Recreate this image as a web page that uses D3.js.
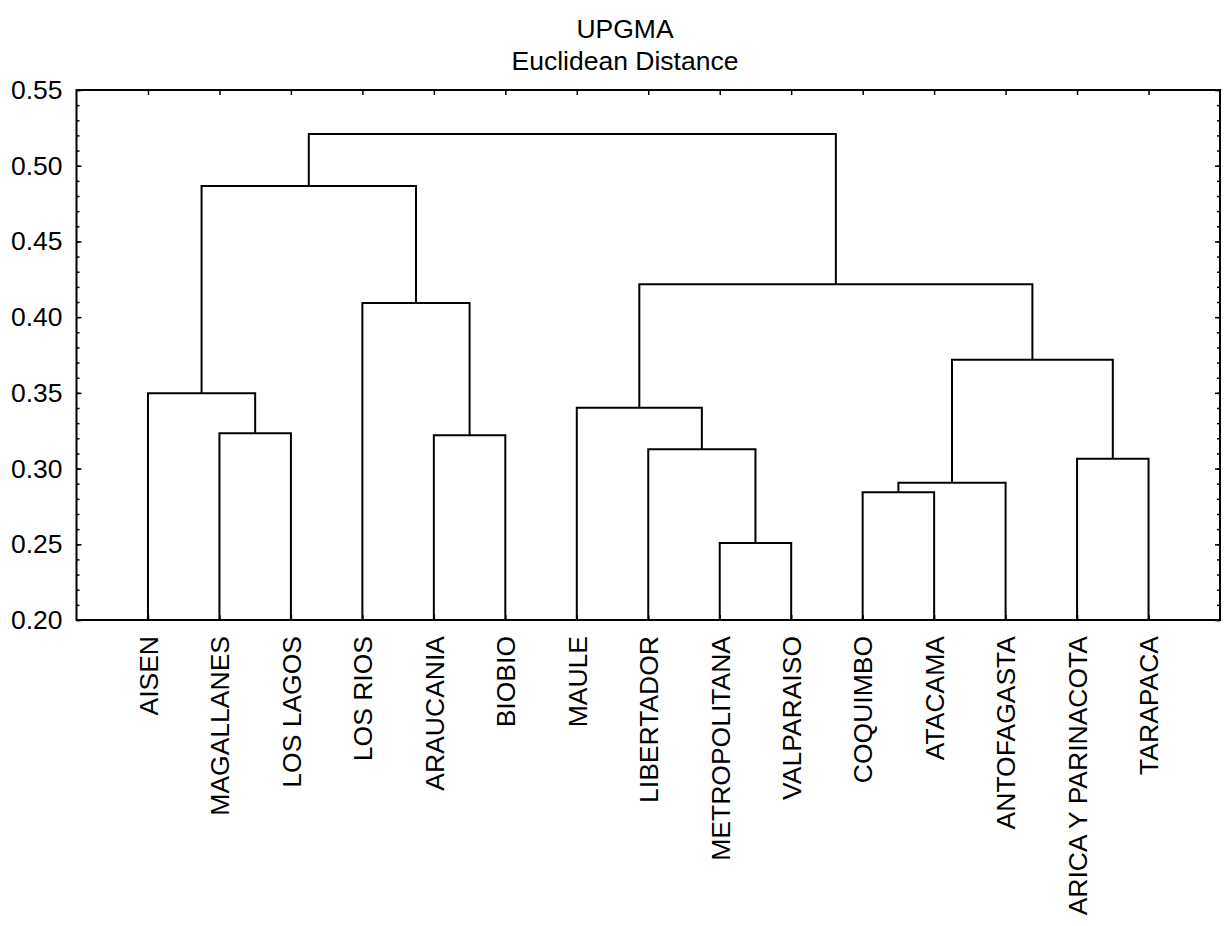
<!DOCTYPE html>
<html>
<head>
<meta charset="utf-8">
<script src="https://cdn.jsdelivr.net/npm/d3@7"></script>
<style>
  html, body { margin: 0; padding: 0; background: #fff; }
  svg { display: block; }
  text { font-family: "Liberation Sans", Arial, sans-serif; fill: #000; }
</style>
</head>
<body>
<svg id="chart" width="1224" height="926"></svg>
<script>
// ---- Data ----
const leaves = ["AISEN", "MAGALLANES", "LOS LAGOS", "LOS RIOS", "ARAUCANIA", "BIOBIO",
  "MAULE", "LIBERTADOR", "METROPOLITANA", "VALPARAISO", "COQUIMBO", "ATACAMA",
  "ANTOFAGASTA", "ARICA Y PARINACOTA", "TARAPACA"];

const mergeIds     = ["m1", "m2", "m3", "m4", "m5", "m6", "m7", "m8", "m9", "m10", "m11", "m12", "m13", "m14"];
const mergeLeft    = ["MAGALLANES", "AISEN", "ARAUCANIA", "LOS RIOS", "m2", "METROPOLITANA", "LIBERTADOR", "MAULE", "COQUIMBO", "m9", "ARICA Y PARINACOTA", "m10", "m8", "m5"];
const mergeRight   = ["LOS LAGOS", "m1", "BIOBIO", "m3", "m4", "VALPARAISO", "m6", "m7", "ATACAMA", "ANTOFAGASTA", "TARAPACA", "m11", "m12", "m13"];
const mergeHeights = [0.3233, 0.3497, 0.3220, 0.4093, 0.4866, 0.2508, 0.3127, 0.3402, 0.2843, 0.2907, 0.3065, 0.3719, 0.4217, 0.5209];

const yTicks = [0.20, 0.25, 0.30, 0.35, 0.40, 0.45, 0.50, 0.55];
const titleLines = ["UPGMA", "Euclidean Distance"];

// ---- Layout ----
const L = 76.5, R = 1220, T = 90, B = 620;
const FS = "26.5px";
const svg = d3.select("#chart");

const x = d3.scalePoint().domain(leaves).range([L, R]).padding(1);
const y = d3.scaleLinear().domain([0.20, 0.55]).range([B, T]);

// Title
svg.append("text").attr("x", 625).attr("y", 38).attr("text-anchor", "middle")
  .style("font-size", FS).text(titleLines[0]);
svg.append("text").attr("x", 625).attr("y", 70).attr("text-anchor", "middle")
  .style("font-size", FS).text(titleLines[1]);

// Node positions
const nodes = {};
leaves.forEach(n => { nodes[n] = { x: x(n), h: 0.20 }; });
mergeIds.forEach((id, i) => {
  const a = nodes[mergeLeft[i]], b = nodes[mergeRight[i]];
  nodes[id] = { x: (a.x + b.x) / 2, h: mergeHeights[i], a, b };
});

// Dendrogram links
const g = svg.append("g");
mergeIds.forEach(id => {
  const n = nodes[id];
  const p = d3.path();
  p.moveTo(n.a.x, y(n.a.h));
  p.lineTo(n.a.x, y(n.h));
  p.lineTo(n.b.x, y(n.h));
  p.lineTo(n.b.x, y(n.b.h));
  g.append("path").attr("d", p.toString()).attr("fill", "none")
    .attr("stroke", "#000").attr("stroke-width", 2);
});

// Axes
const minorTicks = d3.range(20, 56).map(v => v / 100);

const leftAxis = svg.append("g").attr("transform", `translate(${L},0)`)
  .call(d3.axisLeft(y).tickValues(yTicks).tickFormat(d3.format(".2f"))
    .tickSizeInner(-5).tickSizeOuter(0).tickPadding(14));
leftAxis.selectAll("text").style("font-size", FS);
svg.append("g").attr("transform", `translate(${L},0)`)
  .call(d3.axisLeft(y).tickValues(minorTicks).tickFormat("").tickSizeInner(-3).tickSizeOuter(0));

svg.append("g").attr("transform", `translate(${R},0)`)
  .call(d3.axisRight(y).tickValues(yTicks).tickFormat("").tickSizeInner(-5).tickSizeOuter(0));
svg.append("g").attr("transform", `translate(${R},0)`)
  .call(d3.axisRight(y).tickValues(minorTicks).tickFormat("").tickSizeInner(-3).tickSizeOuter(0));

svg.append("g").attr("transform", `translate(0,${T})`)
  .call(d3.axisTop(x).tickFormat("").tickSizeInner(-5).tickSizeOuter(0));

const bottomAxis = svg.append("g").attr("transform", `translate(0,${B})`)
  .call(d3.axisBottom(x).tickSizeInner(-5).tickSizeOuter(0));
bottomAxis.selectAll("text")
  .attr("transform", "rotate(-90)")
  .attr("x", -16).attr("y", 0).attr("dy", "0.35em")
  .attr("text-anchor", "end")
  .style("font-size", FS);

svg.selectAll(".domain").remove();
svg.selectAll(".tick line").attr("stroke", "#000").attr("stroke-width", 1.5);

// Frame
svg.append("rect").attr("x", L).attr("y", T).attr("width", R - L).attr("height", B - T)
  .attr("fill", "none").attr("stroke", "#000").attr("stroke-width", 2);
</script>
</body>
</html>
